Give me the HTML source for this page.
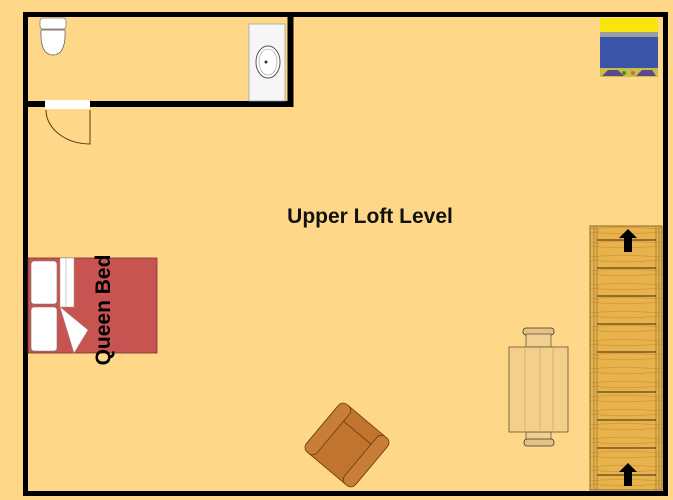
<!DOCTYPE html>
<html><head><style>
body{margin:0;width:673px;height:500px;background:#fed888;position:relative;overflow:hidden;font-family:"Liberation Sans",sans-serif}
</style></head><body>
<svg width="673" height="500" style="position:absolute;left:0;top:0">
<defs>
<pattern id="wood" width="60" height="14" patternUnits="userSpaceOnUse">
<rect width="60" height="14" fill="#e8b34c"/>
<path d="M0 4 Q30 2 60 5 M0 9 Q30 11 60 8" stroke="#d79c36" stroke-width="1" fill="none"/>
</pattern>
</defs>
<rect x="25.5" y="14.5" width="640" height="479" fill="none" stroke="#000" stroke-width="5"/>
<path d="M290.5 14 V104 H25" fill="none" stroke="#000" stroke-width="6"/>
<rect x="45" y="100" width="45" height="9" fill="#fff"/>
<path d="M46 110 A44 34 0 0 0 90 144 V110" fill="none" stroke="#5a3a10" stroke-width="1"/>
<rect x="40" y="18" width="26" height="11" rx="3" fill="#fff" stroke="#777" stroke-width="0.7"/>
<path d="M41 30 Q40 55 53 55 Q66 55 65 30 Z" fill="#fff" stroke="#555" stroke-width="0.7"/>
<rect x="249" y="24" width="36" height="77" fill="#f6f6f6" stroke="#999" stroke-width="0.7"/>
<ellipse cx="268" cy="62" rx="12" ry="16" fill="#fff" stroke="#555" stroke-width="1"/>
<ellipse cx="268" cy="62" rx="9" ry="13" fill="none" stroke="#999" stroke-width="0.6"/>
<circle cx="266" cy="62" r="1.5" fill="#333"/>
<rect x="600" y="18" width="58" height="14" fill="#f8e40e"/>
<rect x="600" y="32" width="58" height="5" fill="#9a9ca0"/>
<rect x="600" y="37" width="58" height="31" fill="#3a55a8"/>
<rect x="600" y="68" width="58" height="9" fill="#c8bd4a"/>
<path d="M602 76 L608 70 H618 L624 76 Z M636 76 L642 70 H652 L656 76Z" fill="#5a4a8a"/>
<circle cx="624" cy="73" r="2" fill="#4a8a2a"/><circle cx="633" cy="73" r="2" fill="#d07020"/>
<rect x="590" y="226" width="72" height="264" fill="url(#wood)" stroke="#8a6a2a" stroke-width="1"/>
<path d="M594 226 V490 M597 226 V490 M656 226 V490 M659 226 V490" stroke="#9a7a3a" stroke-width="0.8"/>
<g stroke="#3a2a10" stroke-width="1">
<line x1="597" y1="240" x2="656" y2="240"/><line x1="597" y1="268" x2="656" y2="268"/>
<line x1="597" y1="296" x2="656" y2="296"/><line x1="597" y1="324" x2="656" y2="324"/>
<line x1="597" y1="352" x2="656" y2="352"/><line x1="597" y1="392" x2="656" y2="392"/>
<line x1="597" y1="420" x2="656" y2="420"/><line x1="597" y1="448" x2="656" y2="448"/>
<line x1="597" y1="475" x2="656" y2="475"/>
</g>
<path d="M628 229 L619 238 H624 V252 H632 V238 H637 Z" fill="#000"/>
<path d="M628 463 L619 472 H624 V486 H632 V472 H637 Z" fill="#000"/>
<rect x="523" y="328" width="31" height="7" rx="3" fill="#e8c080" stroke="#333" stroke-width="0.8"/>
<rect x="526" y="334" width="25" height="13" fill="#f0d090" stroke="#333" stroke-width="0.6"/>
<rect x="526" y="432" width="25" height="10" fill="#f0d090" stroke="#333" stroke-width="0.6"/>
<rect x="524" y="439" width="30" height="7" rx="3" fill="#e8c080" stroke="#333" stroke-width="0.8"/>
<rect x="509" y="347" width="59" height="85" fill="#f3cf8c" stroke="#6a5030" stroke-width="0.8"/>
<path d="M525 348 V431 M540 348 V431 M553 348 V431" stroke="#e8b870" stroke-width="1.5"/>
<rect x="28" y="258" width="129" height="95" fill="#c85452" stroke="#7a3030" stroke-width="0.8"/>
<rect x="31" y="261" width="26" height="43" rx="3" fill="#fff" stroke="#777" stroke-width="0.6"/>
<rect x="31" y="307" width="26" height="44" rx="3" fill="#fff" stroke="#777" stroke-width="0.6"/>
<path d="M60 258 H74 V307 L60 307 Z" fill="#fff" stroke="#999" stroke-width="0.5"/>
<line x1="66" y1="258" x2="66" y2="307" stroke="#aaa" stroke-width="0.6"/>
<path d="M60 307 L74 353 L88 330 Z" fill="#fff" stroke="#999" stroke-width="0.5"/>
<text x="0" y="0" transform="translate(110,310) rotate(-90)" text-anchor="middle" font-family="Liberation Sans" font-weight="bold" font-size="21" fill="#000">Queen Bed</text>
<g transform="translate(347,445) rotate(40)">
<rect x="-32" y="-31" width="64" height="62" rx="8" fill="#c0742e" stroke="#6a3a10" stroke-width="0.8"/>
<rect x="-32" y="-31" width="14" height="62" rx="6" fill="#c97e38" stroke="#6a3a10" stroke-width="0.8"/>
<rect x="18" y="-31" width="14" height="62" rx="6" fill="#c97e38" stroke="#6a3a10" stroke-width="0.8"/>
<line x1="-18" y1="-16" x2="18" y2="-16" stroke="#6a3a10" stroke-width="0.8"/>
</g>
<text x="370" y="223" text-anchor="middle" font-family="Liberation Sans" font-weight="bold" font-size="21" fill="#111">Upper Loft Level</text>
</svg>
</body></html>
